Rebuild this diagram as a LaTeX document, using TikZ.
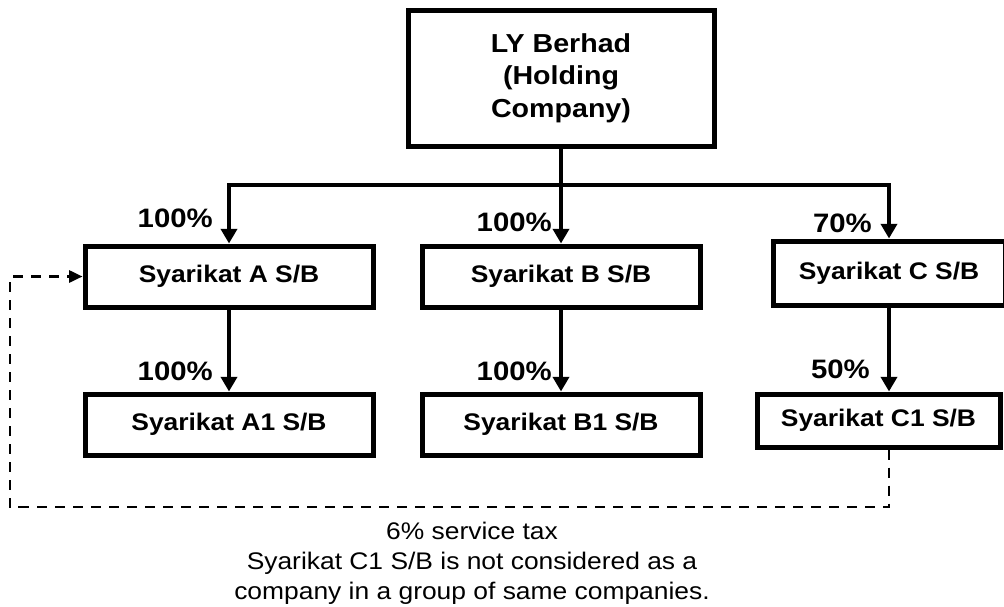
\documentclass[tikz,border=0pt]{standalone}
\usepackage{fontspec}
\setmainfont[FakeStretch=1.1]{Liberation Sans}
\usetikzlibrary{arrows.meta,positioning}

\begin{document}
\begin{tikzpicture}[x=0.75pt, y=-0.75pt, >={Triangle[width=12pt,length=11pt]},
    entity/.style={draw, line width=3.75pt, align=center, inner sep=0pt,
      font=\bfseries\fontsize{18}{20.7}\selectfont},
    pct/.style={anchor=east, inner sep=0pt, font=\bfseries\fontsize{20}{23}\selectfont},
    link/.style={line width=3pt},
    taxlink/.style={line width=2pt, dash pattern=on 7.5pt off 6pt,
      -{Triangle[width=9pt,length=10pt]}},
    note/.style={align=center, inner sep=0pt, font=\fontsize{18}{22.5}\selectfont}]
  \useasboundingbox (0,0) rectangle (1004,607);

  % Holding company
  \node[entity, minimum width=229.5pt, minimum height=102pt,
    font=\bfseries\fontsize{19.5}{24.4}\selectfont] (ly) at (561,78)
    {LY Berhad\\(Holding\\Company)};

  % Subsidiaries
  \node[entity, minimum width=216pt, minimum height=45.75pt] (sa) at (229,276.5) {Syarikat A S/B};
  \node[entity, minimum width=208.5pt, minimum height=45.75pt] (sb) at (561,276.5) {Syarikat B S/B};
  \node[entity, minimum width=174pt, minimum height=48pt] (sc) at (889,273) {Syarikat C S/B};

  % Second level
  \node[entity, minimum width=216pt, minimum height=45.75pt] (sa1) at (229,424.5) {Syarikat A1 S/B};
  \node[entity, minimum width=208.5pt, minimum height=45.75pt] (sb1) at (561,424.5) {Syarikat B1 S/B};
  \node[entity, minimum width=182.25pt, minimum height=39.75pt] (sc1) at (878.5,420.5) {Syarikat C1 S/B};

  % Ownership lines
  \coordinate (bus) at (561,185);
  \draw[link, ->] (ly.south) -- (sb.north);
  \draw[link, ->] (bus) -| (sa.north);
  \draw[link, ->] (bus) -| (sc.north);
  \draw[link, ->] (sa.south) -- (sa1.north);
  \draw[link, ->] (sb.south) -- (sb1.north);
  \draw[link, ->] (sc.south) -- (sc.south |- sc1.north);

  % Percentages
  \node[pct] (pa) at (213,218) {100\%};
  \node[pct] (pb) at (552,222) {100\%};
  \node[pct] (pc) at (872,223) {70\%};
  \node[pct] (pa1) at (213,371) {100\%};
  \node[pct] (pb1) at (552,371) {100\%};
  \node[pct] (pc1) at (870,369) {50\%};

  % Service tax loop
  \coordinate (loopR) at (889,507);
  \coordinate (loopL) at (10,507);
  \draw[taxlink] (sc.south |- sc1.south) -- (loopR) -- (loopL) |- (sa.west);

  \node[note] (tax) at (472,563)
    {6\% service tax\\Syarikat C1 S/B is not considered as a\\company in a group of same companies.};
\end{tikzpicture}
\end{document}
